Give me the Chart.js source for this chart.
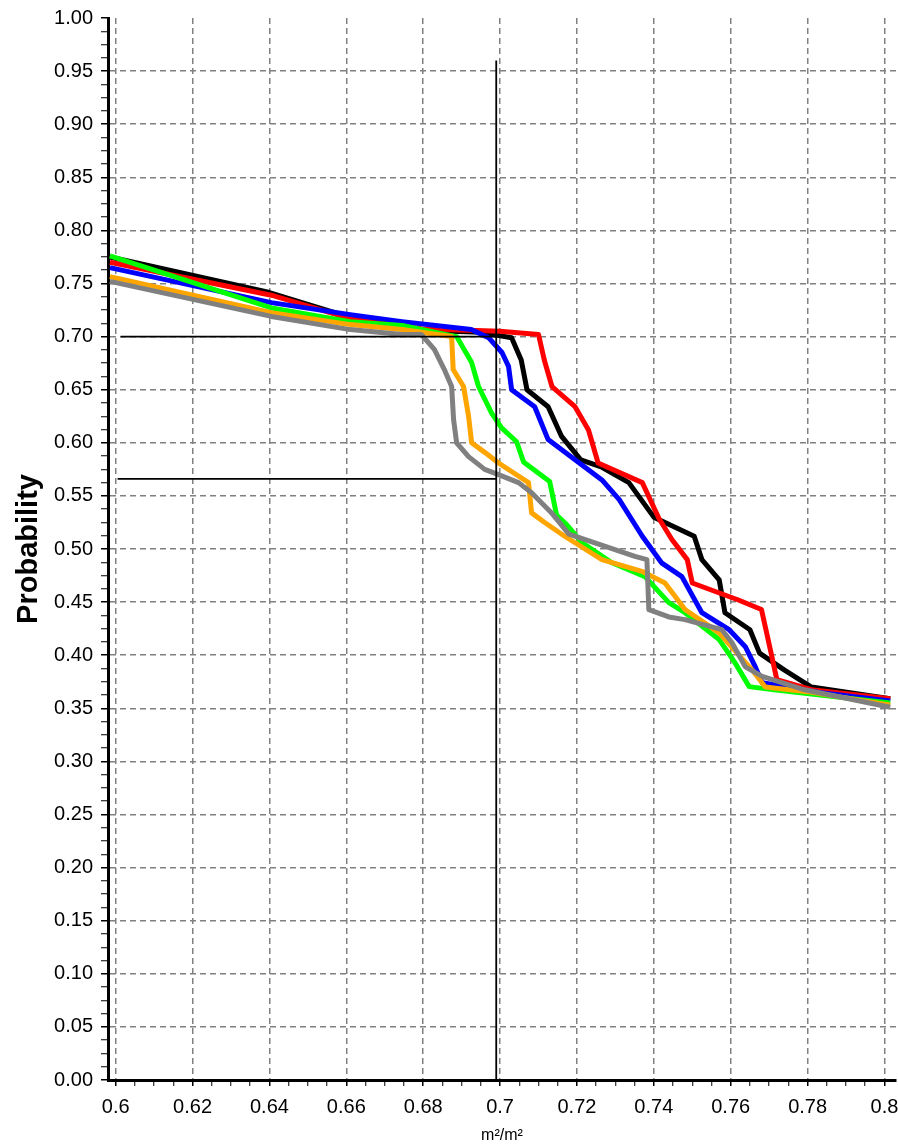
<!DOCTYPE html>
<html>
<head>
<meta charset="utf-8">
<script src="https://cdn.jsdelivr.net/npm/chart.js@4.4.1/dist/chart.umd.min.js"></script>
<style>
  html, body { margin: 0; padding: 0; background: #fff; }
  #wrap { width: 898px; height: 1147px; }
</style>
</head>
<body>
<div id="wrap"><canvas id="chart" width="898" height="1147"></canvas></div>
<script>
// curve values (x in m²/m², y = probability)
const blackX = [0.5985, 0.640, 0.661, 0.6795, 0.695, 0.703, 0.7055, 0.707, 0.7125, 0.716, 0.721, 0.7265, 0.7335, 0.740, 0.7505, 0.7525, 0.757, 0.7585, 0.765, 0.7675, 0.774, 0.781, 0.8015]
const blackY = [0.775, 0.7415, 0.718, 0.706, 0.704, 0.699, 0.678, 0.650, 0.634, 0.606, 0.584, 0.577, 0.5625, 0.530, 0.512, 0.490, 0.471, 0.440, 0.424, 0.402, 0.386, 0.370, 0.359]

const redX = [0.5985, 0.6405, 0.661, 0.6795, 0.700, 0.710, 0.7115, 0.7135, 0.7195, 0.723, 0.7255, 0.737, 0.7413, 0.7447, 0.7487, 0.750, 0.762, 0.768, 0.7705, 0.772, 0.781, 0.8015]
const redY = [0.770, 0.739, 0.717, 0.7075, 0.705, 0.702, 0.678, 0.653, 0.634, 0.612, 0.581, 0.5625, 0.529, 0.509, 0.490, 0.468, 0.452, 0.443, 0.402, 0.377, 0.3676, 0.359]

const blueX = [0.5985, 0.6405, 0.661, 0.6745, 0.6925, 0.697, 0.7005, 0.7022, 0.703, 0.709, 0.7125, 0.7195, 0.7265, 0.731, 0.737, 0.742, 0.7473, 0.7525, 0.7596, 0.7638, 0.7664, 0.7682, 0.783, 0.8015]
const blueY = [0.765, 0.732, 0.7207, 0.7141, 0.7066, 0.699, 0.685, 0.672, 0.650, 0.634, 0.603, 0.584, 0.565, 0.5465, 0.512, 0.487, 0.474, 0.440, 0.424, 0.408, 0.389, 0.374, 0.365, 0.357]

const greenX = [0.5985, 0.6405, 0.661, 0.6745, 0.6887, 0.6926, 0.6944, 0.6978, 0.7004, 0.7043, 0.7061, 0.7129, 0.7147, 0.7173, 0.7213, 0.7291, 0.7377, 0.7439, 0.7481, 0.757, 0.7611, 0.7648, 0.7708, 0.8015]
const greenY = [0.776, 0.727, 0.714, 0.7104, 0.700, 0.6755, 0.653, 0.628, 0.614, 0.601, 0.582, 0.5635, 0.532, 0.523, 0.506, 0.487, 0.474, 0.4495, 0.440, 0.4147, 0.393, 0.3704, 0.3676, 0.355]

const orangeX = [0.5985, 0.6405, 0.661, 0.6745, 0.6874, 0.6878, 0.6905, 0.6918, 0.6926, 0.696, 0.6996, 0.7074, 0.7082, 0.7116, 0.7168, 0.7265, 0.7369, 0.7429, 0.7481, 0.757, 0.7656, 0.769, 0.7812, 0.8015]
const orangeY = [0.7565, 0.7226, 0.7113, 0.7066, 0.700, 0.669, 0.653, 0.625, 0.600, 0.591, 0.581, 0.5625, 0.534, 0.525, 0.512, 0.490, 0.479, 0.468, 0.443, 0.421, 0.386, 0.370, 0.365, 0.353]

const grayX = [0.5985, 0.6405, 0.661, 0.6745, 0.6795, 0.6829, 0.6855, 0.6874, 0.6879, 0.6887, 0.6918, 0.696, 0.6996, 0.7048, 0.7082, 0.7134, 0.7179, 0.7351, 0.7382, 0.7387, 0.7439, 0.7481, 0.7577, 0.7603, 0.7638, 0.7682, 0.7786, 0.8015]
const grayY = [0.752, 0.719, 0.7066, 0.702, 0.702, 0.688, 0.669, 0.653, 0.622, 0.600, 0.587, 0.575, 0.570, 0.5625, 0.553, 0.534, 0.514, 0.493, 0.490, 0.443, 0.436, 0.4335, 0.424, 0.412, 0.389, 0.380, 0.368, 0.351]

// thin black read-off lines
const cutX = [0.699, 0.699]
const cutY = [0, 0.96]
const level70X = [0.6013, 0.699]
const level70Y = [0.70, 0.70]
const level57X = [0.6005, 0.699]
const level57Y = [0.566, 0.566]

// tick labels
const xTickLabels = ["0.6", "0.62", "0.64", "0.66", "0.68", "0.7", "0.72", "0.74", "0.76", "0.78", "0.8"]
const yTickLabels = ["0.00", "0.05", "0.10", "0.15", "0.20", "0.25", "0.30", "0.35", "0.40", "0.45", "0.50",
  "0.55", "0.60", "0.65", "0.70", "0.75", "0.80", "0.85", "0.90", "0.95", "1.00"]

const pts = (xs, ys) => xs.map((x, i) => ({ x: x, y: ys[i] }))

// major ticks carry a label, minor ones sit between them
const xTicks = []
xTickLabels.forEach((lab, i) => {
  xTicks.push({ value: Number(lab), maj: true, lab: lab })
  if (i < xTickLabels.length - 1) {
    for (let k = 1; k < 4; k++) xTicks.push({ value: Number(lab) + k * 0.005 })
  }
})
const yTicks = []
yTickLabels.forEach((lab, i) => {
  yTicks.push({ value: Number(lab), maj: true, lab: lab })
  if (i < yTickLabels.length - 1) {
    for (let k = 1; k < 4; k++) yTicks.push({ value: Number(lab) + k * 0.0125 })
  }
})

const font = "'Liberation Sans', Arial, sans-serif"

const line = (data, color, width) => ({
  data: data,
  borderColor: color,
  borderWidth: width,
  pointRadius: 0,
  tension: 0,
  fill: false,
  borderJoinStyle: "round",
  borderCapStyle: "butt"
})

new Chart(document.getElementById("chart"), {
  type: "line",
  data: {
    datasets: [
      line(pts(cutX, cutY), "#000", 1.8),
      line(pts(level70X, level70Y), "#000", 1.8),
      line(pts(level57X, level57Y), "#000", 1.8),
      line(pts(grayX, grayY), "#808080", 5),
      line(pts(orangeX, orangeY), "#ffa500", 5),
      line(pts(greenX, greenY), "#00ff00", 5),
      line(pts(blueX, blueY), "#0000ff", 5),
      line(pts(redX, redY), "#ff0000", 5),
      line(pts(blackX, blackY), "#000000", 5)
    ]
  },
  options: {
    responsive: false,
    animation: false,
    layout: { padding: { top: 18, right: 2, bottom: 0, left: 0 } },
    plugins: { legend: { display: false }, tooltip: { enabled: false } },
    scales: {
      x: {
        type: "linear",
        min: 0.598,
        max: 0.803,
        afterBuildTicks: s => { s.ticks = xTicks.map(t => Object.assign({}, t)) },
        afterFit: s => { s.height = 67; s.paddingLeft = 0; s.paddingRight = 0 },
        ticks: {
          autoSkip: false, maxRotation: 0, minRotation: 0, padding: 9,
          color: "#000", font: { family: font, size: 20 },
          callback: (v, i, t) => t[i].lab || ""
        },
        grid: {
          color: c => (c.tick && c.tick.maj) ? "#808080" : "rgba(0,0,0,0)",
          lineWidth: 1.5,
          tickColor: "#000",
          tickWidth: c => (c.tick && c.tick.maj) ? 1.5 : 1,
          tickLength: 6
        },
        border: { display: true, width: 3, color: "#000", dash: [6, 4] },
        title: {
          display: true, text: "m²/m²", color: "#000",
          font: { family: font, size: 16 }, padding: { top: 0, bottom: 2 }
        }
      },
      y: {
        min: 0,
        max: 1,
        afterBuildTicks: s => { s.ticks = yTicks.map(t => Object.assign({}, t)) },
        afterFit: s => { s.width = 108; s.paddingTop = 0; s.paddingBottom = 0 },
        ticks: {
          autoSkip: false, padding: 8,
          color: "#000", font: { family: font, size: 20 },
          callback: (v, i, t) => t[i].lab || ""
        },
        grid: {
          color: c => (c.tick && c.tick.maj && c.tick.value > 0 && c.tick.value < 1) ? "#808080" : "rgba(0,0,0,0)",
          lineWidth: 1.5,
          tickColor: "#000",
          tickWidth: c => (c.tick && c.tick.maj) ? 1.5 : 1,
          tickLength: 7
        },
        border: { display: true, width: 3, color: "#000", dash: [6, 4] },
        title: {
          display: true, text: "Probability", color: "#000",
          font: { family: font, size: 29, weight: "bold" }, padding: { top: 12, bottom: 0 }
        }
      }
    }
  }
})
</script>
</body>
</html>
